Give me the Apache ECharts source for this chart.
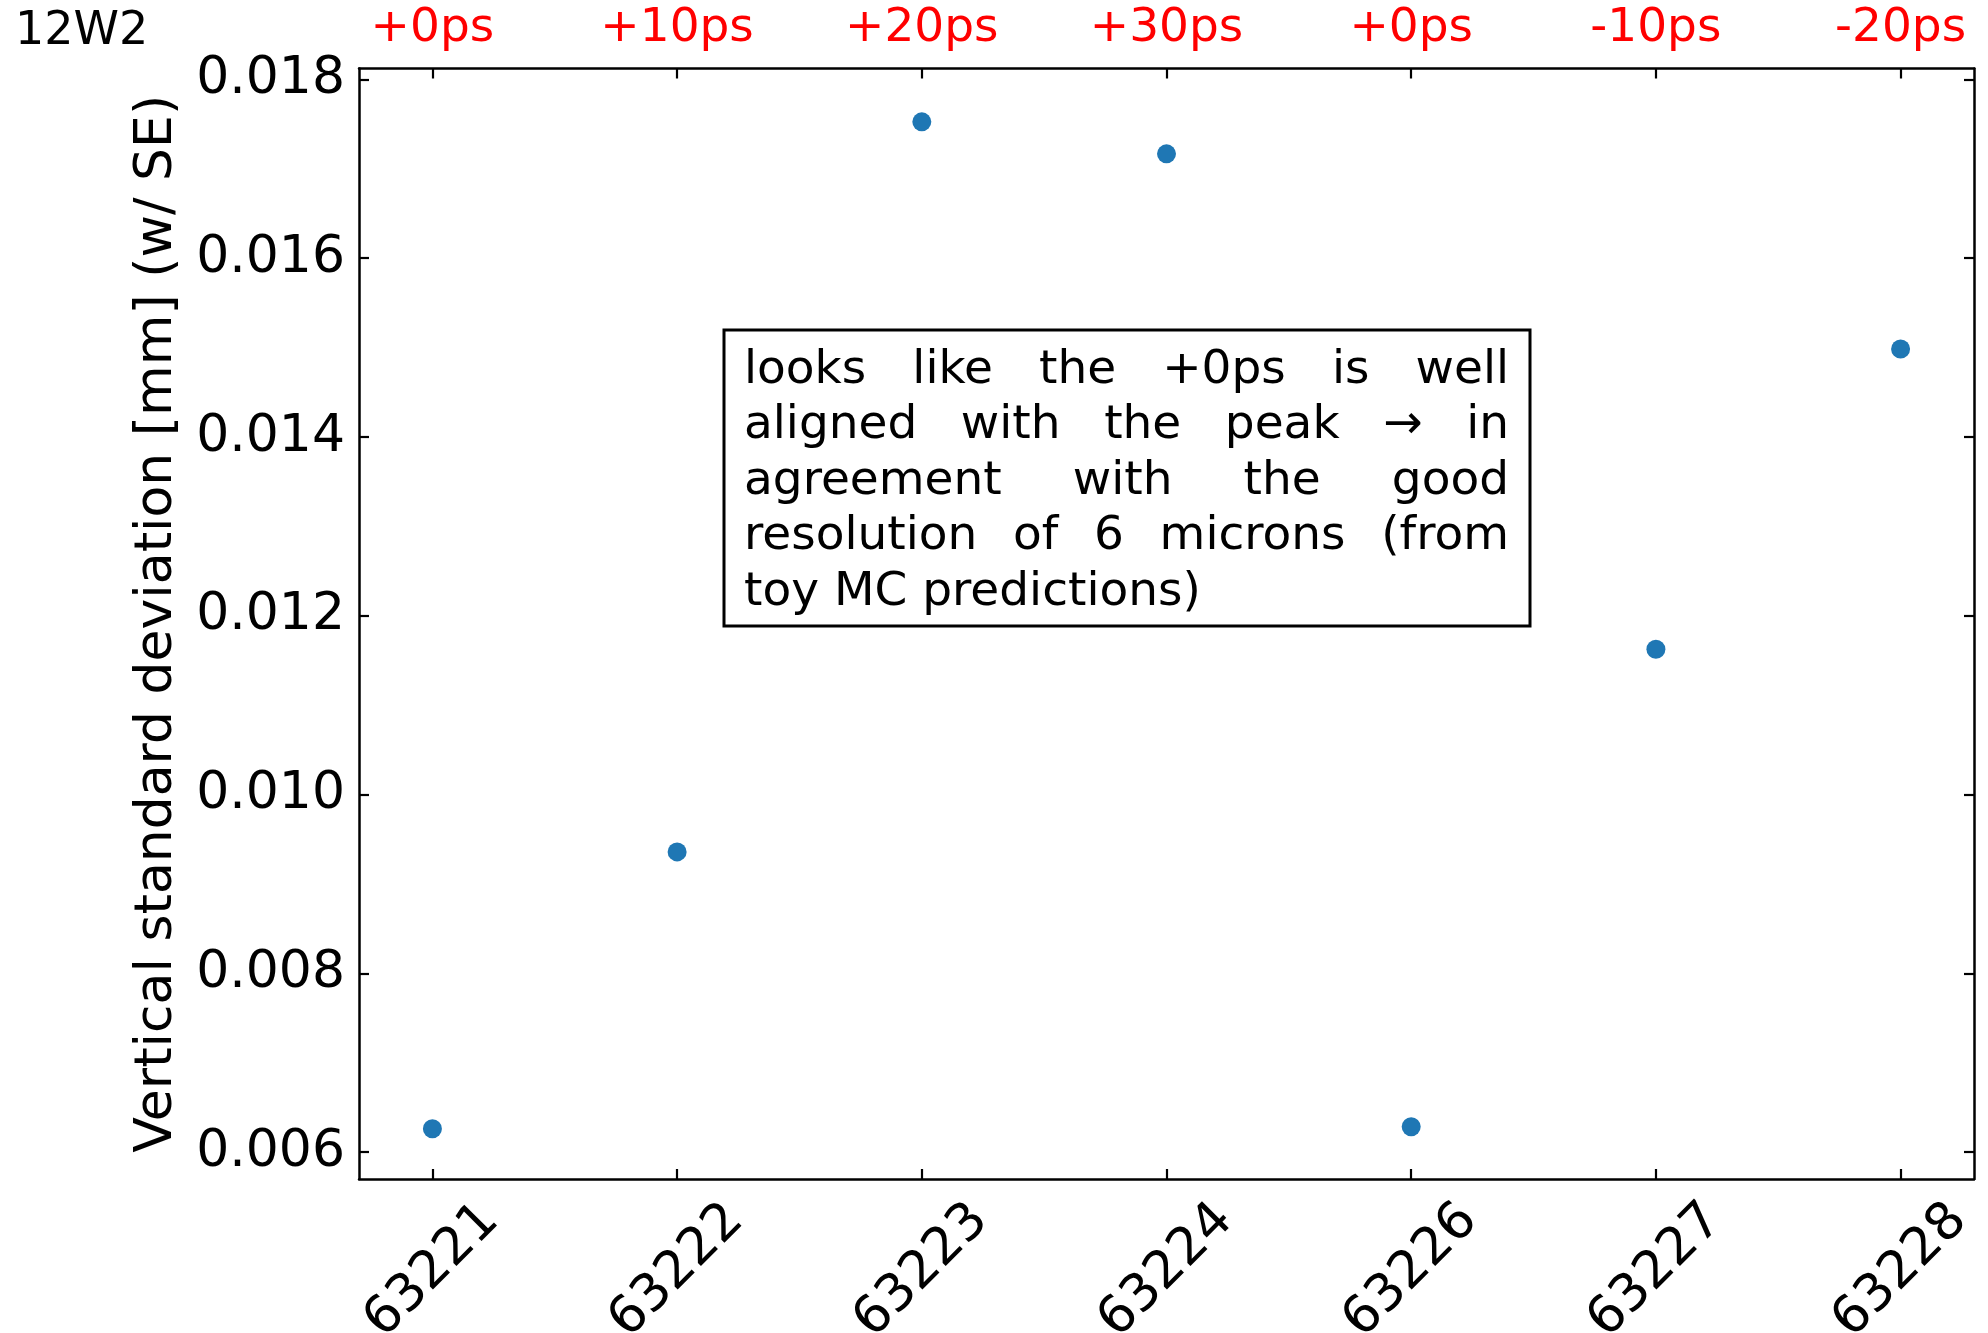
<!DOCTYPE html>
<html>
<head>
<meta charset="utf-8">
<script src="https://cdn.jsdelivr.net/npm/echarts@6/dist/echarts.min.js"></script>
<style>
html,body{margin:0;padding:0;background:#fff;}
#chart{width:1988px;height:1333px;}
</style>
</head>
<body>
<div id="chart"></div>
<script>
// ---- data ----
const runs = ['63221', '63222', '63223', '63224', '63226', '63227', '63228'];
const delays = ['+0ps', '+10ps', '+20ps', '+30ps', '+0ps', '-10ps', '-20ps'];
const stdDev = [0.006261, 0.009358, 0.017526, 0.017168, 0.006282, 0.011626, 0.014985];
const yTicks = [0.006, 0.008, 0.010, 0.012, 0.014, 0.016, 0.018];
const yRange = [0.005698, 0.018123];
const panelLabel = '12W2';
const yTitle = 'Vertical standard deviation [mm] (w/ SE)';
const noteLines = [
  'looks like the +0ps is well',
  'aligned with the peak \u2192 in',
  'agreement with the good',
  'resolution of 6 microns (from',
  'toy MC predictions)'
];

// ---- layout ----
const FONT = '"DejaVu Sans", "Noto Sans", sans-serif';
const xIdx = runs.map((_, i) => i);
const xPad = (runs.length - 1) * 0.05;

const chart = echarts.init(document.getElementById('chart'), null, {renderer: 'canvas'});

function axisCommon() {
  return {
    axisLine: {show: true, onZero: false, lineStyle: {color: '#000', width: 2.5}},
    splitLine: {show: false}
  };
}
function ticks(vals) {
  return {show: true, inside: true, length: 10, customValues: vals, lineStyle: {color: '#000', width: 2.2}};
}

// justified annotation
const boxX = 724, boxY = 330, boxW = 806, boxH = 296;
const textL = 744, textR = 1509, line0 = 370.5, lineStep = 55.5, noteSize = 47;
const meas = document.createElement('canvas').getContext('2d');
meas.font = noteSize + 'px ' + FONT;
const noteEls = [];
function noteText(str, x, y) {
  return {type: 'text', x: x, y: y, z: 110, silent: true,
    style: {text: str, font: noteSize + 'px ' + FONT, fill: '#000', textAlign: 'left', textVerticalAlign: 'middle'}};
}
noteLines.forEach((ln, li) => {
  const words = ln.split(' ');
  const y = line0 + li * lineStep;
  if (li === noteLines.length - 1 || words.length < 2) {
    noteEls.push(noteText(ln, textL, y));
    return;
  }
  const widths = words.map(w => meas.measureText(w).width);
  const total = widths.reduce((a, b) => a + b, 0);
  const gap = (textR - textL - total) / (words.length - 1);
  let x = textL;
  words.forEach((w, wi) => {
    noteEls.push(noteText(w, x, y));
    x += widths[wi] + gap;
  });
});

const option = {
  backgroundColor: '#fff',
  animation: false,
  textStyle: {fontFamily: FONT},
  grid: {left: 359, right: 14, top: 68.5, bottom: 154, containLabel: false, outerBoundsMode: 'none'},
  xAxis: [
    Object.assign(axisCommon(), {
      type: 'value', position: 'bottom', min: -xPad, max: runs.length - 1 + xPad,
      axisTick: ticks(xIdx),
      axisLabel: {
        customValues: xIdx, rotate: 45, align: 'center', verticalAlign: 'middle', margin: 92,
        fontSize: 52, color: '#000', fontFamily: FONT,
        formatter: v => runs[Math.round(v)]
      }
    }),
    Object.assign(axisCommon(), {
      type: 'value', position: 'top', min: -xPad, max: runs.length - 1 + xPad,
      axisTick: ticks(xIdx),
      axisLabel: {
        customValues: xIdx, margin: 16, fontSize: 47, color: '#ff0000', fontFamily: FONT,
        formatter: v => delays[Math.round(v)]
      }
    })
  ],
  yAxis: [
    Object.assign(axisCommon(), {
      type: 'value', position: 'left', min: yRange[0], max: yRange[1],
      axisTick: ticks(yTicks),
      axisLabel: {customValues: yTicks, margin: 14, fontSize: 52, color: '#000', fontFamily: FONT, formatter: v => v.toFixed(3)},
      name: yTitle, nameLocation: 'middle', nameGap: 176, nameRotate: 90,
      nameTextStyle: {fontSize: 52, color: '#000', fontFamily: FONT}
    }),
    Object.assign(axisCommon(), {
      type: 'value', position: 'right', min: yRange[0], max: yRange[1],
      axisTick: ticks(yTicks),
      axisLabel: {show: false}
    })
  ],
  series: [{
    type: 'scatter',
    xAxisIndex: 0, yAxisIndex: 0,
    symbol: 'circle', symbolSize: 19,
    itemStyle: {color: '#1f77b4', opacity: 1},
    data: stdDev.map((v, i) => [xIdx[i], v])
  }],
  graphic: [
    {type: 'text', left: 15, top: 9, style: {text: panelLabel, font: '46px ' + FONT, fill: '#000'}},
    {type: 'rect', z: 100, shape: {x: boxX, y: boxY, width: boxW, height: boxH}, style: {fill: '#fff', stroke: '#000', lineWidth: 3}}
  ].concat(noteEls)
};
chart.setOption(option);
</script>
</body>
</html>
